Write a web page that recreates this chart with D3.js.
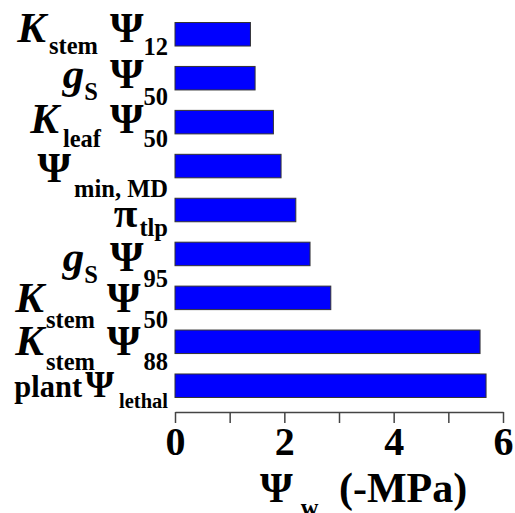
<!DOCTYPE html>
<html><head><meta charset="utf-8">
<script src="https://cdn.jsdelivr.net/npm/d3@7"></script>
<style>body{margin:0;background:#fff}svg{display:block}</style></head><body>
<script>
// ---- data ----
const categories = ["Kstem Ψ12","gS Ψ50","Kleaf Ψ50","Ψmin, MD","πtlp","gS Ψ95","Kstem Ψ50","Kstem Ψ88","plant Ψlethal"];
const values = [1.38, 1.465, 1.80, 1.94, 2.21, 2.47, 2.85, 5.58, 5.69];
const xTickValues = [0, 1, 2, 3, 4, 5, 6];
const xTickLabels = ["0", "", "2", "", "4", "", "6"];
const labelPieces = [
  [["K","it"],["stem","sub"],["Ψ","main"],["12","sub"]],
  [["g","it"],["S","sub"],["Ψ","main"],["50","sub"]],
  [["K","it"],["leaf","sub"],["Ψ","main"],["50","sub"]],
  [["Ψ","main"],["min, MD","sub"]],
  [["π","main"],["tlp","sub"]],
  [["g","it"],["S","sub"],["Ψ","main"],["95","sub"]],
  [["K","it"],["stem","sub"],["Ψ","main"],["50","sub"]],
  [["K","it"],["stem","sub"],["Ψ","main"],["88","sub"]],
  [["plant","small"],["Ψ","mid"],["lethal","tiny"]]
];
const titlePieces = [["Ψ","title"],["w","sub"],[" (-MPa)","title"]];

// ---- layout / style ----
const W = 515, H = 513;
const rowDy = [8, 10, 11, 16, 17, 17, 14, 13, 11];
const pieceDx = [[0,3,12,0],[0,0,12,0],[0,4,9,0],[0,3],[0,2],[0,0,12,0],[0,2,12,3],[0,2,12,3],[0,3,5]];
const pieceSub = [[0,12,0,13],[0,12,0,17],[0,14,0,14],[0,15],[0,9],[0,12,0,16],[0,16,0,16],[0,15,0,15],[0,0,11]];
const roleStyle = {
  it:   {size: 43, style: "italic"},
  main: {size: 43, style: "normal"},
  title:{size: 42, style: "normal"},
  sub:  {size: 24.5, style: "normal"},
  small:{size: 30.5, style: "normal"},
  mid:  {size: 37, style: "normal"},
  tiny: {size: 20.5, style: "normal"}
};
const FONT = "'Liberation Serif','Times New Roman',serif";

const svg = d3.select("body").append("svg").attr("width", W).attr("height", H)
  .style("font-family", FONT).style("font-weight", "bold");

const x = d3.scaleLinear().domain([0, 6]).range([175, 503]);
const y = d3.scaleBand().domain(categories).range([12.3, 407.7]).paddingInner(0.465).paddingOuter(0.2325);

// bars
svg.append("g").selectAll("rect").data(values).join("rect")
  .attr("x", x(0))
  .attr("y", (d, i) => y(categories[i]))
  .attr("width", d => x(d) - x(0))
  .attr("height", y.bandwidth())
  .attr("fill", "#0000ff")
  .attr("stroke", "#333")
  .attr("stroke-width", 1);

// rich text helper
function richText(sel, pieces, dxs, subs) {
  let cur = 0;
  pieces.forEach((p, j) => {
    const st = roleStyle[p[1]];
    const target = subs ? subs[j] : 0;
    sel.append("tspan")
      .attr("dx", dxs ? dxs[j] : 0)
      .attr("dy", target - cur)
      .style("font-size", st.size + "px")
      .style("font-style", st.style)
      .text(p[0]);
    cur = target;
  });
}
const lab = svg.append("g");
categories.forEach((c, i) => {
  const t = lab.append("text")
    .attr("x", 168)
    .attr("y", y(c) + y.bandwidth() / 2 + rowDy[i])
    .attr("text-anchor", "end")
    .attr("fill", "#000");
  richText(t, labelPieces[i], pieceDx[i], pieceSub[i]);
});

// x axis
const ax = svg.append("g").attr("transform", "translate(0,412)")
  .call(d3.axisBottom(x).tickValues(xTickValues).tickSize(11).tickSizeOuter(0)
    .tickFormat((d, i) => xTickLabels[i]));
ax.select(".domain").attr("stroke", "#444").attr("stroke-width", 1.5);
ax.selectAll(".tick line").attr("stroke", "#444").attr("stroke-width", 1.5);
ax.selectAll(".tick text").attr("dy", null).attr("y", 43)
  .style("font-size", "40px").style("font-family", FONT).style("font-weight", "bold").attr("fill", "#000");

// axis title
const tt = svg.append("text").attr("x", 260).attr("y", 502).attr("fill", "#000");
richText(tt, titlePieces, [0, 8, 10], [0, 14, 0]);
</script>
</body></html>
